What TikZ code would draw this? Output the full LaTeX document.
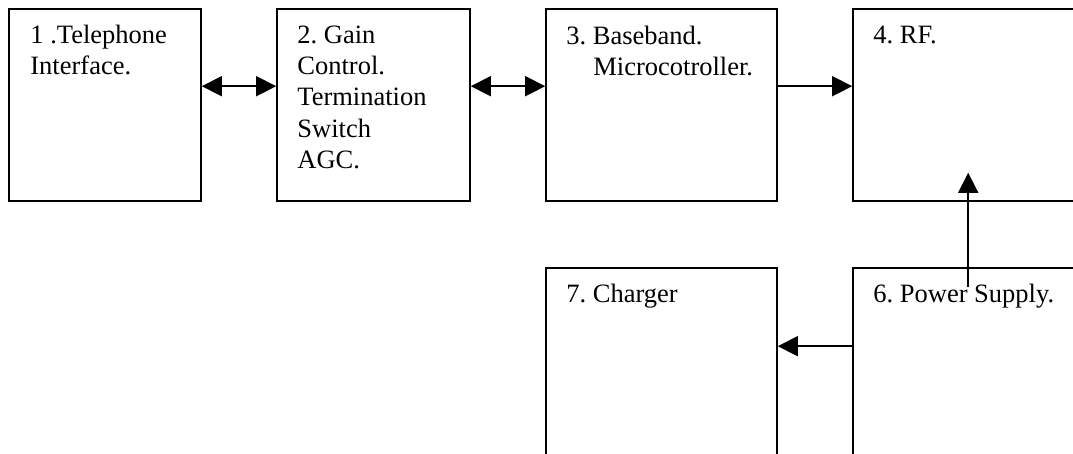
\documentclass[tikz,border=0pt]{standalone}
\usepackage{fontspec}
\setmainfont{Liberation Serif}
\frenchspacing
\usetikzlibrary{arrows.meta,calc}
\newcommand{\topstrut}{\rule{0pt}{20pt}}
\tikzset{
  blk/.style={draw=black, line width=1.6pt, inner sep=0pt, rectangle},
  lbl/.style={anchor=north west, inner sep=0pt, align=left,
    font=\fontsize{26.5}{31.3}\selectfont\frenchspacing},
  conn/.style={line width=1.6pt, -{Triangle[length=20pt,width=20pt]}},
  biconn/.style={line width=1.6pt, {Triangle[length=20pt,width=20pt]}-{Triangle[length=20pt,width=20pt]}}
}
\begin{document}
\begin{tikzpicture}[x=1pt,y=-1pt]
\useasboundingbox (0,0) rectangle (1073,454);
\fill[white] (0,0) rectangle (1073,454);
\clip (0,0) rectangle (1073,454);
% boxes
\node[blk, minimum width=192pt, minimum height=192pt] (b1) at (105,105) {};
\node[blk, minimum width=193pt, minimum height=192pt] (b2) at (373.5,105) {};
\node[blk, minimum width=231pt, minimum height=192pt] (b3) at (661.5,105) {};
\node[blk, minimum width=347pt, minimum height=192pt] (b4) at (1026.5,105) {};
\node[blk, minimum width=231pt, minimum height=232pt] (b7) at (661.5,384) {};
\node[blk, minimum width=347pt, minimum height=232pt] (b6) at (1026.5,384) {};
% labels (first baseline 35 below the box top)
\node[lbl] (t1) at ($(b1.north west)+(22,15)$) {\topstrut 1 .Telephone\\Interface.};
\node[lbl] (t2) at ($(b2.north west)+(21,15)$) {\topstrut 2. Gain\\Control.\\Termination\\Switch\\AGC.};
\node[lbl] (t3) at ($(b3.north west)+(21,16)$) {\topstrut 3. Baseband.\\\hspace*{27pt}Microcotroller.};
\node[lbl] (t4) at ($(b4.north west)+(21,15)$) {\topstrut 4. RF.};
\node[lbl] (t7) at ($(b7.north west)+(21,15)$) {\topstrut 7. Charger};
\node[lbl] (t6) at ($(b6.north west)+(21,15)$) {\topstrut 6. Power Supply.};
% connectors
\draw[biconn] ($(b1.north east)+(0,78)$) -- ($(b2.north west)+(0,78)$);
\draw[biconn] ($(b2.north east)+(0,78)$) -- ($(b3.north west)+(0,78)$);
\draw[conn] ($(b3.north east)+(0,78)$) -- ($(b4.north west)+(0,78)$);
\draw[conn] ($(b6.north west)+(0,79)$) -- ($(b7.north east)+(0,79)$);
\draw[conn] ($(b6.north west)+(116,20)$) -- ($(b4.south west)+(116,-29)$);
\end{tikzpicture}
\end{document}
